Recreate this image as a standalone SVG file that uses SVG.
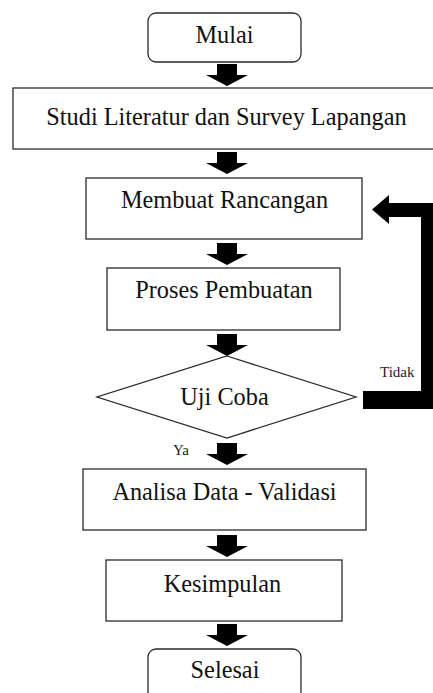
<svg xmlns="http://www.w3.org/2000/svg" xmlns:xlink="http://www.w3.org/1999/xlink" width="433" height="693" viewBox="0 0 433 693">
<style>
.box{fill:#fff;stroke:#2a2a2a;stroke-width:1.3}
.t{font-family:"Liberation Serif","Times New Roman",serif;font-size:24.3px;fill:#111;text-anchor:middle}
.lbl{font-family:"Liberation Serif","Times New Roman",serif;font-size:15px;fill:#222}
.arr{fill:#000}
</style>
<defs>
<path id="blk" d="M-10,-22 H10 V-11 H21 L0,0 L-21,-11 H-10 Z"/>
</defs>
<rect width="433" height="693" fill="#fff"/>
<g id="connectors" class="arr">
<use xlink:href="#blk" x="227" y="86"/>
<use xlink:href="#blk" x="227" y="174"/>
<use xlink:href="#blk" x="227" y="265"/>
<use xlink:href="#blk" x="227" y="356"/>
<use xlink:href="#blk" x="227" y="465"/>
<use xlink:href="#blk" x="227" y="557"/>
<use xlink:href="#blk" x="227" y="646"/>
<polygon points="440,203 389,203 389,195 372,209.5 389,224 389,217 421,217 421,391 363,391 363,409 440,409"/>
<text class="lbl" x="380" y="377">Tidak</text>
<text class="lbl" x="173" y="455">Ya</text>
</g>
<g id="mulai"><rect class="box" x="148" y="13" width="153" height="49" rx="8"/><text class="t" x="224.5" y="43">Mulai</text></g>
<g id="studi"><rect class="box" x="13" y="88" width="430" height="61"/><text class="t" x="226.5" y="125">Studi Literatur dan Survey Lapangan</text></g>
<g id="membuat"><rect class="box" x="86" y="178" width="276" height="61"/><text class="t" x="224.5" y="208">Membuat Rancangan</text></g>
<g id="proses"><rect class="box" x="107" y="268" width="233" height="62"/><text class="t" x="224" y="298">Proses Pembuatan</text></g>
<g id="uji"><polygon class="box" points="227,356 356,397 227,438 97,397"/><text class="t" x="224.5" y="405">Uji Coba</text></g>
<g id="analisa"><rect class="box" x="83" y="469" width="283" height="61"/><text class="t" x="224.5" y="500">Analisa Data - Validasi</text></g>
<g id="kesimpulan"><rect class="box" x="106" y="560" width="236" height="61"/><text class="t" x="222.5" y="592">Kesimpulan</text></g>
<g id="selesai"><rect class="box" x="148" y="649" width="153" height="60" rx="8"/><text class="t" x="225" y="678">Selesai</text></g>
</svg>
